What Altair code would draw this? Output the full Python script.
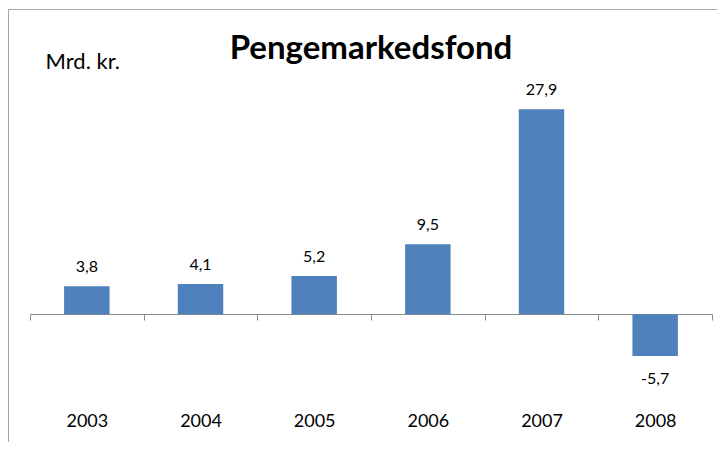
import altair as alt
import pandas as pd

years = ["2003", "2004", "2005", "2006", "2007", "2008"]
values = [3.8, 4.1, 5.2, 9.5, 27.9, -5.7]
labels = [f"{v:.1f}".replace(".", ",") for v in values]
title_text = "Pengemarkedsfond"

df = pd.DataFrame({"year": years, "value": values, "label": labels})

FONT = "Lato"
W, H = 682, 382

x_enc = alt.X(
    "year:N",
    sort=years,
    scale=alt.Scale(paddingInner=0, paddingOuter=0),
    axis=alt.Axis(
        title=None,
        labelAngle=0,
        offset=-103,
        tickBand="extent",
        tickSize=6,
        tickColor="#8c8c8c",
        domainColor="#8c8c8c",
        labelPadding=92,
        labelFont=FONT,
        labelFontSize=18,
        labelFontWeight="normal",
        labelColor="#000000",
    ),
)
y_enc = alt.Y(
    "value:Q",
    scale=alt.Scale(domain=[-14, 38], nice=False, zero=False),
    axis=alt.Axis(
        title="Mrd. kr.",
        labels=False,
        ticks=False,
        domain=False,
        grid=False,
        titleAngle=0,
        titleAlign="left",
        titleBaseline="middle",
        titleX=15,
        titleY=26,
        titleFont=FONT,
        titleFontSize=22,
        titleFontWeight="normal",
        titleColor="#000000",
    ),
)

base = alt.Chart(df)

bars = base.mark_bar(width={"band": 0.4}, color="#4F81BD").encode(x=x_enc, y=y_enc)

pos_text = base.transform_filter("datum.value >= 0").mark_text(
    font=FONT, fontSize=16, baseline="middle", dy=-19, color="#000000"
).encode(x=alt.X("year:N", sort=years), y="value:Q", text="label:N")

neg_text = base.transform_filter("datum.value < 0").mark_text(
    font=FONT, fontSize=16, baseline="middle", dy=23, color="#000000"
).encode(x=alt.X("year:N", sort=years), y="value:Q", text="label:N")

title_df = pd.DataFrame({"t": [title_text]})
title_mark = alt.Chart(title_df).mark_text(
    font=FONT, fontSize=33, fontWeight="bold", color="#000000",
    align="center", baseline="middle",
).encode(x=alt.value(W / 2), y=alt.value(14), text="t:N")

left_df = pd.DataFrame({"k": [0]})
top_df = pd.DataFrame({"k": [1]})
left_border = alt.Chart(left_df).mark_rule(color="#a6a6a6", strokeWidth=1).encode(
    x=alt.value(-21.5), y=alt.value(-26), y2=alt.value(H + 60)
)
top_border = alt.Chart(top_df).mark_rule(color="#a6a6a6", strokeWidth=1).encode(
    x=alt.value(-22), x2=alt.value(W + 40), y=alt.value(-25.5)
)

chart = (
    alt.layer(left_border, top_border, bars, pos_text, neg_text, title_mark)
    .properties(
        width=W,
        height=H,
        autosize=alt.AutoSizeParams(type="none"),
        padding={"left": 22, "top": 27, "right": 5, "bottom": 25},
    )
    .configure(background="white")
    .configure_view(stroke=None, strokeWidth=0)
)

chart.save("out.html", embed_options={"renderer": "svg", "actions": False})
